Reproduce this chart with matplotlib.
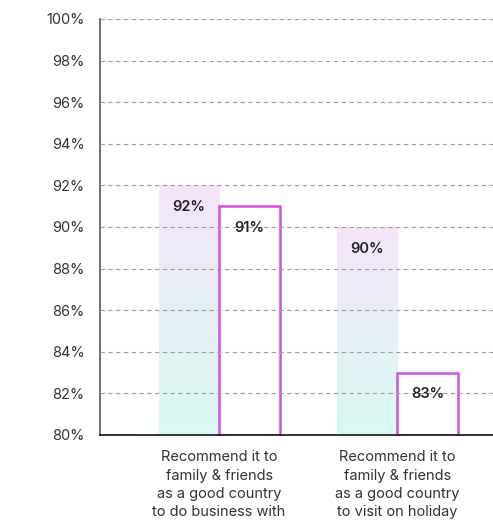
import numpy as np
import matplotlib.pyplot as plt
from matplotlib import rcParams
from matplotlib.ticker import FuncFormatter

rcParams['font.family'] = ['Inter', 'DejaVu Sans']

# Data
categories = ['Recommend it to\nfamily & friends\nas a good country\nto do business with',
              'Recommend it to\nfamily & friends\nas a good country\nto visit on holiday']
series_a = [92, 90]   # gradient bars
series_b = [91, 83]   # outlined bars
y_ticks = [80, 82, 84, 86, 88, 90, 92, 94, 96, 98, 100]
base = 80

fig = plt.figure(figsize=(4.93, 5.24), dpi=100)
ax = fig.add_axes([100 / 493, 89 / 524, 393 / 493, 416 / 524])

x = np.arange(len(categories))
w = 0.34

# gradient image: lavender at top, mint at bottom
top_c = np.array([245, 229, 250]) / 255
bot_c = np.array([216, 250, 243]) / 255
t = np.linspace(0, 1, 256)[:, None]
grad = (top_c * (1 - t) + bot_c * t)[:, None, :]

bars_a = ax.bar(x - w / 2, np.array(series_a) - base, width=w, bottom=base,
                color='none', edgecolor='none', zorder=1)
for b in bars_a:
    im = ax.imshow(grad, extent=[b.get_x(), b.get_x() + b.get_width(), base, base + b.get_height()],
                   aspect='auto', zorder=1, interpolation='bilinear')
    im.set_clip_path(b)

bars_b = ax.bar(x + w / 2, np.array(series_b) - base, width=w, bottom=base, color='white',
                edgecolor='#d34fe0', linewidth=1.8, zorder=2)

for xi, v in zip(x - w / 2, series_a):
    ax.text(xi, v - 1.05, f'{v}%', ha='center', va='center', fontsize=10.5,
            fontweight='semibold', color='#222222', zorder=4)
for xi, v in zip(x + w / 2, series_b):
    ax.text(xi, v - 1.05, f'{v}%', ha='center', va='center', fontsize=10.5,
            fontweight='semibold', color='#222222', zorder=4)

ax.set_xlim(-0.669, 1.539)
ax.set_ylim(80, 100)
ax.set_yticks(y_ticks)
ax.yaxis.set_major_formatter(FuncFormatter(lambda v, p: f'{v:.0f}%'))
ax.set_xticks(x)
ax.set_xticklabels(categories, fontsize=10.5, color='#333333', linespacing=1.4)
ax.tick_params(axis='y', length=0, pad=11, labelsize=10.5, labelcolor='#333333')
ax.tick_params(axis='x', length=0, pad=11)

# grid sits on top of the bars, as in the reference
ax.set_axisbelow(False)
ax.grid(axis='y', linestyle=(0, (4, 3)), color='#a0a0a0', linewidth=0.8)
for s in ['top', 'right']:
    ax.spines[s].set_visible(False)
ax.spines['left'].set_color('#555555')
ax.spines['left'].set_linewidth(1.2)
ax.spines['bottom'].set_color('#111111')
ax.spines['bottom'].set_linewidth(1.2)
ax.spines['bottom'].set_zorder(5)

fig.savefig('out.png', dpi=100)
